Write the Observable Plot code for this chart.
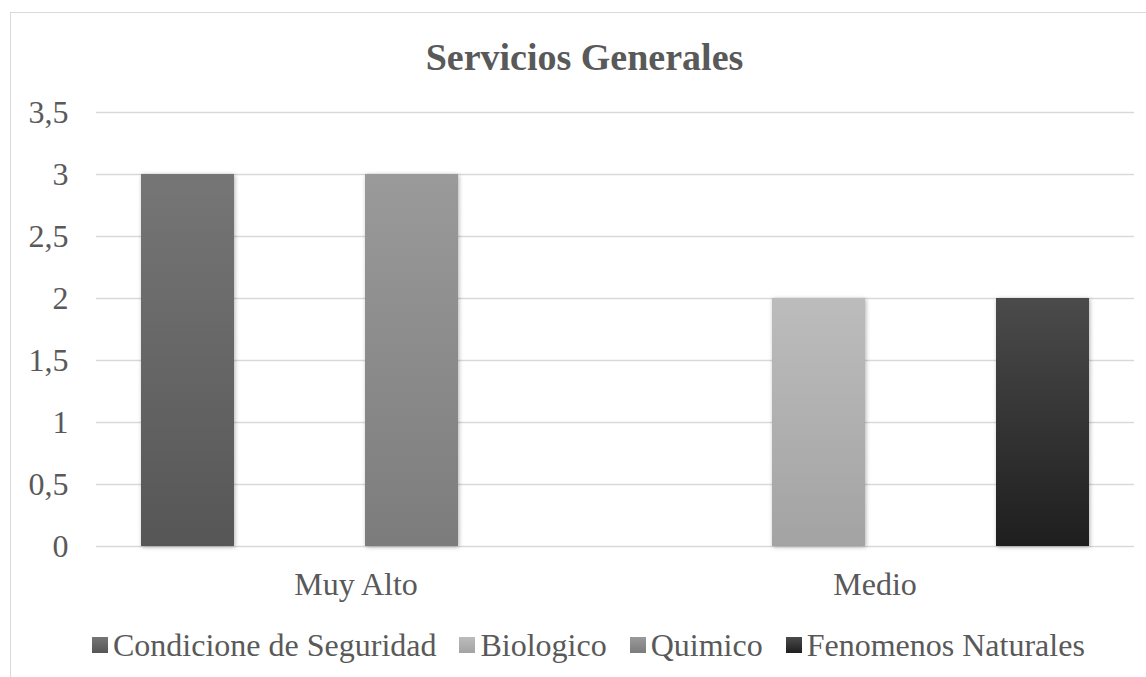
<!DOCTYPE html>
<html>
<head>
<meta charset="utf-8">
<script src="https://cdn.jsdelivr.net/npm/d3@7"></script>
<script src="https://cdn.jsdelivr.net/npm/@observablehq/plot@0.6"></script>
<style>
  html, body { margin: 0; padding: 0; background: #fff; }
  #wrap { position: relative; width: 1146px; height: 677px; overflow: hidden; color: #595959; }
  #border { position: absolute; left: 10px; top: 12px; width: 1200px; height: 800px; border: 1.5px solid #d9d9d9; box-sizing: border-box; }
  #title { position: absolute; left: 0; width: 1169px; top: 38px; text-align: center; font-size: 38px; line-height: 38px; font-weight: bold; color: #595959; }
  #chart { position: absolute; left: 0; top: 0; }
  #legend { position: absolute; left: 92px; top: 629px; display: flex; align-items: center; font-size: 32px; line-height: 32px; white-space: nowrap; }
  .item { display: flex; align-items: center; margin-right: 23px; }
  .sw { width: 16px; height: 16px; margin-right: 5px; }
</style>
</head>
<body>
<div id="wrap" style="font-family:'Liberation Serif'">
  <div id="border"></div>
  <div id="chart"></div>
  <div id="title" style="font-family:'Liberation Serif'">Servicios Generales</div>
  <div id="legend" style="font-family:'Liberation Serif'"></div>
</div>
<script>
const groups = ["Muy Alto", "Medio"];
const series = ["Condicione de Seguridad", "Biologico", "Quimico", "Fenomenos Naturales"];
const muyAltoValues = [3, 0, 3, 0];
const medioValues = [0, 2, 0, 2];
const yTicks = [0, 0.5, 1, 1.5, 2, 2.5, 3, 3.5];
const gradTop = ["#767676", "#bcbcbc", "#9a9a9a", "#4b4b4b"];
const gradBottom = ["#565656", "#a3a3a3", "#7c7c7c", "#1e1e1e"];

const valueSets = [muyAltoValues, medioValues];
const data = [];
groups.forEach((g, gi) => series.forEach((ser, si) => {
  const v = valueSets[gi][si];
  if (v > 0) data.push({group: g, series: ser, value: v});
}));

const gradIds = series.map((ser, i) => "grad" + i);

const svg = Plot.plot({
  width: 1146,
  height: 620,
  marginLeft: 95,
  marginRight: 12,
  marginTop: 112,
  marginBottom: 74,
  style: {fontFamily: "Liberation Serif", fontSize: "32px", color: "#595959", background: "transparent"},
  fx: {domain: groups, padding: 0, label: null, tickSize: 0, tickPadding: 26},
  x: {domain: series, paddingInner: 0.173, paddingOuter: 0.398, axis: null},
  y: {domain: [0, 3.5], ticks: yTicks, tickFormat: d => String(d).replace(".", ","), tickSize: 0, tickPadding: 28, label: null},
  color: {domain: series, range: gradIds.map(id => `url(#${id})`)},
  marks: [
    Plot.gridY(yTicks, {stroke: "#d9d9d9", strokeOpacity: 1, strokeWidth: 1.5}),
    Plot.barY(data, {fx: "group", x: "series", y: "value", fill: "series"})
  ]
});

const sel = d3.select(svg);
const defs = sel.insert("defs", ":first-child");
series.forEach((ser, i) => {
  const lg = defs.append("linearGradient").attr("id", gradIds[i]).attr("x1", 0).attr("y1", 0).attr("x2", 0).attr("y2", 1);
  lg.append("stop").attr("offset", "0%").attr("stop-color", gradTop[i]);
  lg.append("stop").attr("offset", "100%").attr("stop-color", gradBottom[i]);
});
sel.selectAll("g[aria-label='bar'] rect").style("filter", "drop-shadow(1px 1px 2px rgba(0,0,0,0.3))");

document.getElementById("chart").appendChild(svg);

const legend = document.getElementById("legend");
series.forEach((ser, i) => {
  const it = document.createElement("div");
  it.className = "item";
  const sw = document.createElement("div");
  sw.className = "sw";
  sw.style.background = `linear-gradient(${gradTop[i]}, ${gradBottom[i]})`;
  const tx = document.createElement("span");
  tx.textContent = ser;
  it.appendChild(sw);
  it.appendChild(tx);
  legend.appendChild(it);
});
</script>
</body>
</html>
